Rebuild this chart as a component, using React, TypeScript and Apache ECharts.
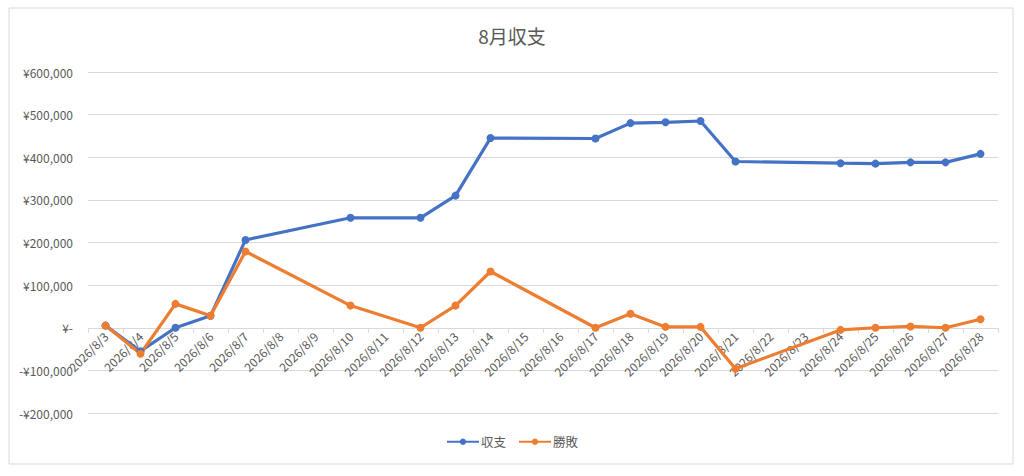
import React, { useEffect, useRef } from "react";
import * as echarts from "echarts";

const title = "8月収支";
const categories = [
  "2026/8/3", "2026/8/4", "2026/8/5", "2026/8/6", "2026/8/7", "2026/8/8", "2026/8/9",
  "2026/8/10", "2026/8/11", "2026/8/12", "2026/8/13", "2026/8/14", "2026/8/15", "2026/8/16",
  "2026/8/17", "2026/8/18", "2026/8/19", "2026/8/20", "2026/8/21", "2026/8/22", "2026/8/23",
  "2026/8/24", "2026/8/25", "2026/8/26", "2026/8/27", "2026/8/28",
];
const shuushi: (number | null)[] = [
  5000, -55000, 0, 28000, 206000, null, null,
  258000, null, 258000, 310000, 445000, null, null,
  444000, 480000, 482000, 485000, 390000, null, null,
  386000, 385000, 388000, 388000, 408000,
];
const shouhai: (number | null)[] = [
  5000, -61000, 56000, 28000, 179000, null, null,
  52000, null, 0, 52000, 132000, null, null,
  0, 33000, 2000, 2000, -96000, null, null,
  -5000, 0, 3000, 0, 20000,
];
const seriesNames = ["収支", "勝敗"];
const colors = ["#4472C4", "#ED7D31"];

const FONT = "'Noto Sans CJK JP', 'Noto Sans', sans-serif";

export default function App() {
  const ref = useRef<HTMLDivElement>(null);
  useEffect(() => {
    document.body.style.margin = "0";
    const chart = echarts.init(ref.current!, undefined, { renderer: "svg" });
    const mk = (name: string, data: (number | null)[], color: string) => ({
      name,
      type: "line",
      data,
      connectNulls: true,
      symbol: "circle",
      symbolSize: 8,
      itemStyle: { color },
      lineStyle: { color, width: 3.2 },
    });
    chart.setOption({
      animation: false,
      textStyle: { fontFamily: FONT },
      title: {
        text: title,
        left: "center",
        top: 21,
        textStyle: { fontFamily: FONT, fontSize: 19, fontWeight: "normal", color: "#595959" },
      },
      graphic: [
        {
          type: "rect",
          shape: { x: 9, y: 8, width: 1004, height: 456 },
          style: { fill: "none", stroke: "#d9d9d9", lineWidth: 1 },
          silent: true,
        },
      ],
      legend: {
        bottom: 23,
        left: "center",
        itemWidth: 32,
        itemHeight: 8,
        itemGap: 12,
        textStyle: { fontFamily: FONT, fontSize: 12.5, color: "#595959", padding: [0, 0, 0, -3] },
        data: seriesNames,
      },
      grid: { left: 88, right: 26, top: 72, bottom: 63 },
      xAxis: {
        type: "category",
        data: categories,
        boundaryGap: true,
        position: "bottom",
        offset: -85,
        axisLine: { onZero: false, lineStyle: { color: "#d9d9d9", width: 1 } },
        axisTick: { show: true, length: 5, lineStyle: { color: "#d9d9d9" } },
        axisLabel: {
          interval: 0,
          rotate: 45,
          margin: 6,
          fontFamily: FONT,
          fontSize: 12,
          color: "#595959",
        },
      },
      yAxis: {
        type: "value",
        min: -200000,
        max: 600000,
        interval: 100000,
        axisLine: { show: false },
        axisTick: { show: false },
        splitLine: { lineStyle: { color: "#d9d9d9", width: 1 } },
        axisLabel: {
          margin: 15,
          fontFamily: FONT,
          fontSize: 12,
          color: "#595959",
          formatter: (v: number) =>
            v === 0 ? "¥-" : (v < 0 ? "-¥" : "¥") + Math.abs(v).toLocaleString("en-US"),
        },
      },
      series: [
        mk(seriesNames[0], shuushi, colors[0]),
        mk(seriesNames[1], shouhai, colors[1]),
      ],
    });
    return () => chart.dispose();
  }, []);
  return <div ref={ref} style={{ width: 1024, height: 476 }} />;
}
